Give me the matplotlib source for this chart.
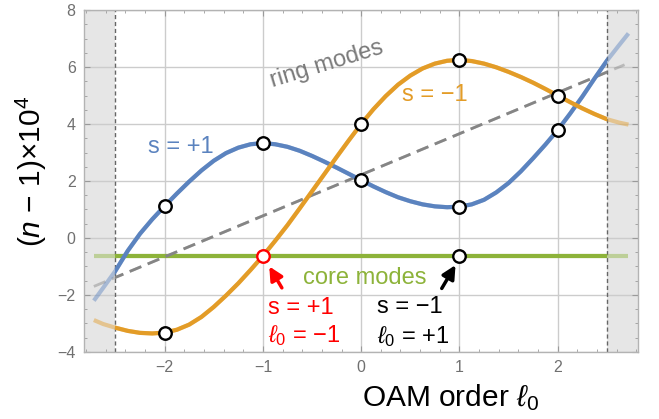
import matplotlib
matplotlib.use("Agg")
import matplotlib.pyplot as plt
from matplotlib.patches import Rectangle
from matplotlib.ticker import MultipleLocator

plt.rcParams['font.family'] = ['Liberation Sans', 'DejaVu Sans']
plt.rcParams['mathtext.fontset'] = 'custom'
plt.rcParams['mathtext.rm'] = 'Liberation Sans'
plt.rcParams['mathtext.it'] = 'Liberation Sans:italic'
plt.rcParams['mathtext.bf'] = 'Liberation Sans:bold'

# OAM order sampling for the two ring-mode branches
l_curve = [-2.72, -2.625, -2.5, -2.375, -2.25, -2.125, -2.0, -1.875, -1.75,
           -1.625, -1.5, -1.375, -1.25, -1.125, -1.0, -0.875, -0.75, -0.625,
           -0.5, -0.375, -0.25, -0.125, 0.0, 0.125, 0.25, 0.375, 0.5, 0.625,
           0.75, 0.875, 1.0, 1.125, 1.25, 1.375, 1.5, 1.625, 1.75, 1.875,
           2.0, 2.125, 2.25, 2.375, 2.5, 2.625, 2.72]
n_s_plus = [-2.2, -1.75, -1.15, -0.45, 0.15, 0.66, 1.12, 1.56, 1.98,
            2.37, 2.71, 2.98, 3.17, 3.29, 3.33, 3.29, 3.2, 3.06,
            2.88, 2.68, 2.47, 2.25, 2.03, 1.81, 1.61, 1.43, 1.29, 1.18,
            1.11, 1.08, 1.1, 1.18, 1.34, 1.6, 1.93, 2.34, 2.8, 3.28,
            3.79, 4.36, 4.96, 5.6, 6.22, 6.77, 7.18]
n_s_minus = [-2.88, -3.02, -3.15, -3.26, -3.33, -3.35, -3.32, -3.22, -3.04,
             -2.77, -2.42, -2.02, -1.59, -1.12, -0.63, -0.1, 0.45, 1.04,
             1.64, 2.24, 2.84, 3.43, 4.0, 4.52, 4.98, 5.38, 5.7, 5.95,
             6.12, 6.22, 6.25, 6.21, 6.12, 5.99, 5.83, 5.65, 5.45, 5.23,
             5.0, 4.77, 4.55, 4.35, 4.17, 4.05, 3.98]

# integer OAM orders (mode solutions)
l_int = [-2, -1, 0, 1, 2]
pts_s_plus = [1.12, 3.33, 2.03, 1.1, 3.79]
pts_s_minus = [-3.32, -0.62, 4.0, 6.25, 5.0]

# uncoupled ring-mode line and core-mode level
ring_l = [-2.72, 2.68]
ring_n = [-1.70, 6.08]
core_l = [-2.72, 2.72]
core_n = [-0.62, -0.62]

valid_range = (-2.5, 2.5)

blue = '#5b83bf'
orange = '#e39c27'
green = '#8db33a'
gray = '#858585'

fig = plt.figure(figsize=(6.59, 4.19), dpi=100)
ax = fig.add_axes([0.1275, 0.16, 0.8411, 0.816])
ax.set_xlim(-2.82, 2.82)
ax.set_ylim(-4, 8)

# shaded region outside the valid range
ax.axvspan(-2.82, valid_range[0], color='#e6e6e6', zorder=0.1, lw=0)
ax.axvspan(valid_range[1], 2.82, color='#e6e6e6', zorder=0.1, lw=0)
for xv in valid_range:
    ax.axvline(xv, color='#666666', lw=1.0, ls=(0, (3, 2)), zorder=0.6)

ax.grid(True, which='major', color='#cccccc', lw=1.0)
ax.set_axisbelow(True)

clip = Rectangle((valid_range[0], -10), valid_range[1] - valid_range[0], 20,
                 transform=ax.transData)


def draw(x, y, color, lw, ls='-', z=2):
    ax.plot(x, y, color=color, lw=lw, ls=ls, alpha=0.45, zorder=z,
            solid_capstyle='butt', solid_joinstyle='round')
    line, = ax.plot(x, y, color=color, lw=lw, ls=ls, zorder=z + 0.1,
                    solid_capstyle='butt', solid_joinstyle='round')
    line.set_clip_path(clip)


draw(core_l, core_n, green, 3.0, z=2)
draw(ring_l, ring_n, gray, 2.0, ls=(0, (4.5, 2.5)), z=2.2)
draw(l_curve, n_s_plus, blue, 3.0, z=2.4)
draw(l_curve, n_s_minus, orange, 3.0, z=2.6)

mk = dict(marker='o', ms=9, mfc='white', mew=1.7, ls='none', zorder=5)
ax.plot(l_int, pts_s_plus, mec='black', **mk)
ax.plot([l_int[i] for i in (0, 2, 3, 4)], [pts_s_minus[i] for i in (0, 2, 3, 4)],
        mec='black', **mk)
ax.plot([l_int[1]], [pts_s_minus[1]], mec='red', **mk)
ax.plot([l_int[3]], [core_n[0]], mec='black', **mk)

# labels on the plot
fs = 17
ax.text(-1.84, 3.19, 's = +1', color=blue, fontsize=fs, ha='center', va='center')
ax.text(0.745, 5.02, 's = \u22121', color=orange, fontsize=fs, ha='center', va='center')
ax.text(-0.35, 6.1, 'ring modes', color='#7a7a7a', fontsize=fs, ha='center',
        va='center', rotation=17, rotation_mode='anchor')
ax.text(0.04, -1.4, 'core modes', color=green, fontsize=fs, ha='center', va='center')

ax.text(-0.95, -2.46, 's = +1', color='red', fontsize=fs, ha='left', va='center')
ax.text(-0.95, -3.42, '$\\ell_0$ = \u22121', color='red', fontsize=fs, ha='left', va='center')
ax.text(0.16, -2.42, 's = \u22121', color='black', fontsize=fs, ha='left', va='center')
ax.text(0.16, -3.45, '$\\ell_0$ = +1', color='black', fontsize=fs, ha='left', va='center')

ax.annotate('', xy=(-0.935, -1.0), xytext=(-0.807, -1.75),
            arrowprops=dict(arrowstyle='-|>,head_length=0.5,head_width=0.25',
                            color='red', lw=2.5,
                            mutation_scale=16, shrinkA=0, shrinkB=0))
ax.annotate('', xy=(0.96, -0.95), xytext=(0.82, -1.77),
            arrowprops=dict(arrowstyle='-|>,head_length=0.5,head_width=0.25',
                            color='black', lw=2.5,
                            mutation_scale=16, shrinkA=0, shrinkB=0))

# frame and ticks
for sp in ax.spines.values():
    sp.set_color('#b3b3b3')
    sp.set_linewidth(1.0)
ax.set_xticks(l_int)
ax.set_xticklabels(['\u22122', '\u22121', '0', '1', '2'])
ax.set_yticks([-4, -2, 0, 2, 4, 6, 8])
ax.set_yticklabels(['\u22124', '\u22122', '0', '2', '4', '6', '8'])
ax.xaxis.set_minor_locator(MultipleLocator(0.2))
ax.yaxis.set_minor_locator(MultipleLocator(0.5))
ax.tick_params(which='both', direction='in', top=True, right=True,
               color='#9a9a9a', labelcolor='#707070', labelsize=11.5)
ax.tick_params(which='major', length=4, width=0.8, pad=6)
ax.tick_params(which='minor', length=2.5, width=0.6)

fig.text(0.047, 0.59, '($n$ \u2212 1)\u00d710$^4$', fontsize=21.5,
         rotation=90, ha='center', va='center')
fig.text(0.684, 0.05, 'OAM order $\\ell_0$', fontsize=21.5, ha='center', va='center')

fig.savefig('out.png', dpi=100)
